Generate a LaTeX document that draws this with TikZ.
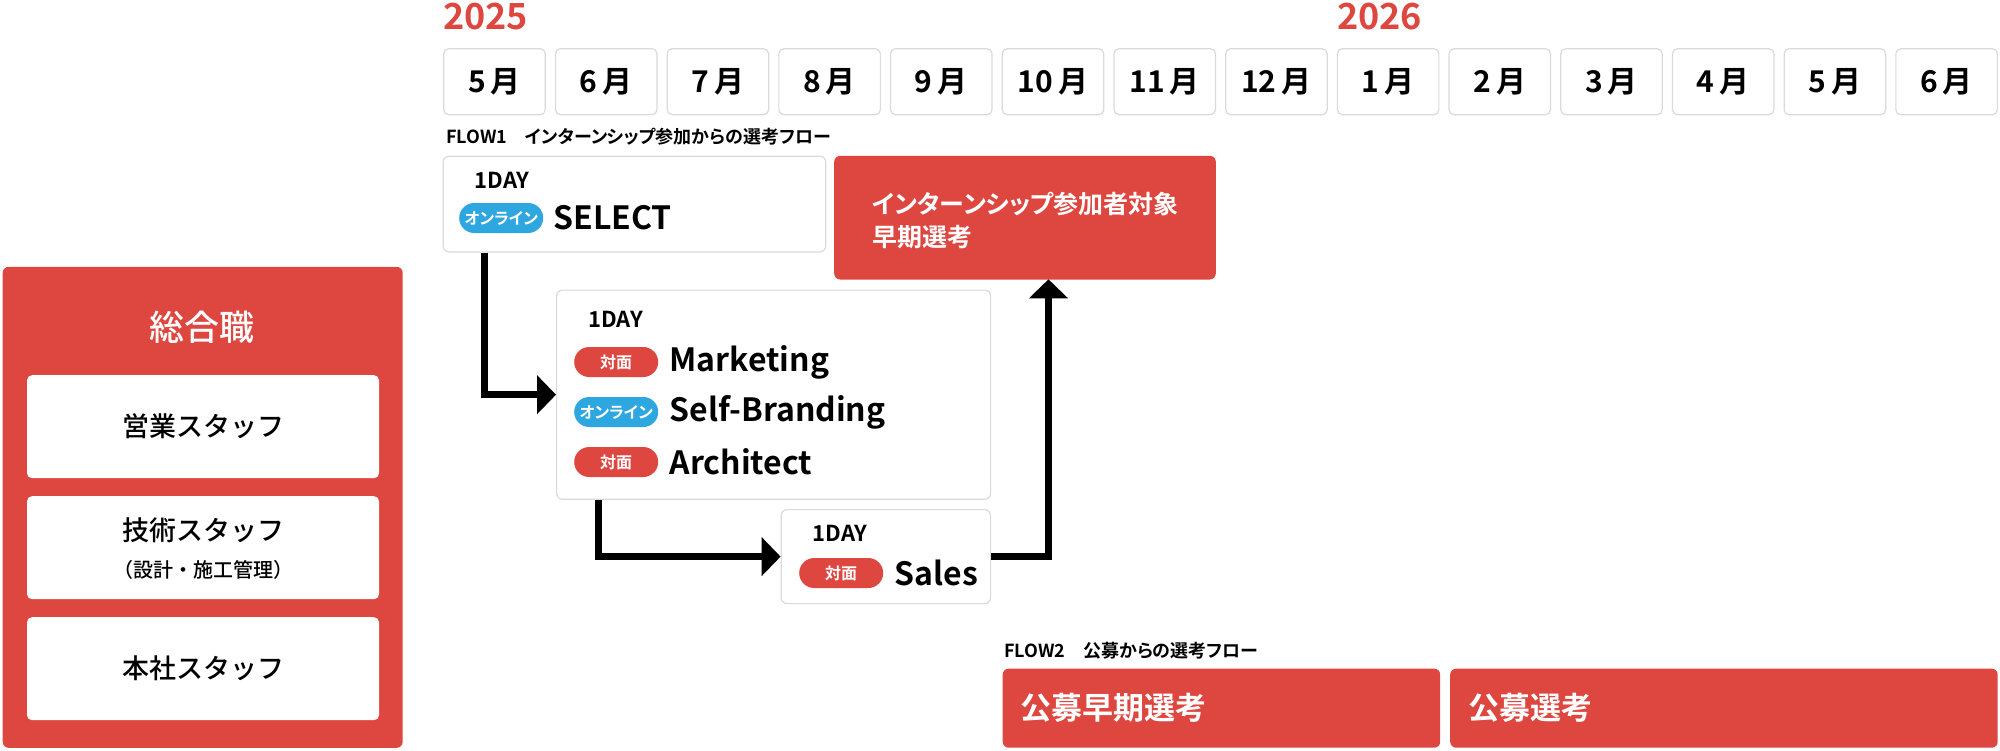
\documentclass[tikz,border=0pt]{standalone}
\usepackage{fontspec}
\setmainfont{Noto Sans CJK JP}[BoldFont={Noto Sans CJK JP Bold}, RawFeature=+palt]
\newfontfamily\jpmedium{Noto Sans CJK JP Medium}
\usepackage{tikz}
\usetikzlibrary{arrows.meta,positioning}

\definecolor{flowred}{HTML}{DE4640}
\definecolor{pillblue}{HTML}{2EA7E0}
\definecolor{boxgray}{HTML}{DADADA}

\newcommand{\fsz}[1]{\fontsize{#1}{#1}\selectfont}

\begin{document}
\begin{tikzpicture}[x=1pt, y=-1pt, >={Triangle[length=19pt,width=38pt]},
	node distance=111.7pt, inner sep=0pt,
	year/.style={text=flowred, font=\fsz{36}\bfseries, anchor=base west},
	month/.style={draw=boxgray, line width=1.2pt, fill=white, rounded corners=5pt,
		minimum width=101.5pt, minimum height=66pt, font=\fsz{30}\bfseries},
	flowlabel/.style={anchor=west, font=\fsz{18}\bfseries},
	card/.style={draw=boxgray, line width=1.2pt, fill=white, rounded corners=6pt, anchor=north west},
	redbox/.style={fill=flowred, rounded corners=6pt, anchor=north west},
	day/.style={anchor=west, font=\fsz{22}\bfseries},
	pill/.style={rounded corners=15pt, minimum width=84pt, minimum height=30pt,
		text=white, font=\fsz{16}\bfseries, anchor=west},
	onlinepill/.style={pill, fill=pillblue},
	facepill/.style={pill, fill=flowred},
	course/.style={anchor=west, font=\fsz{32}\bfseries},
	redtext/.style={text=white, anchor=west, align=left, font=\fontsize{25}{33}\selectfont\bfseries},
	staff/.style={fill=white, rounded corners=5pt, minimum width=352pt, minimum height=103pt},
	stafftext/.style={font=\jpmedium\fsz{27}},
	link/.style={->, line width=7pt}]
	\useasboundingbox (0,0) rectangle (2000,750);

	% Years
	\node [year] (y25) at (443,29.5) {2025};
	\node [year] (y26) at (1337,29.5) {2026};

	% Months
	\node [month] (m5)  at (494.5,81.7) {5\,月};
	\node [month] (m6)  [right of=m5]  {6\,月};
	\node [month] (m7)  [right of=m6]  {7\,月};
	\node [month] (m8)  [right of=m7]  {8\,月};
	\node [month] (m9)  [right of=m8]  {9\,月};
	\node [month] (m10) [right of=m9]  {10\,月};
	\node [month] (m11) [right of=m10] {11\,月};
	\node [month] (m12) [right of=m11] {12\,月};
	\node [month] (m1)  [right of=m12] {1\,月};
	\node [month] (m2)  [right of=m1]  {2\,月};
	\node [month] (m3)  [right of=m2]  {3\,月};
	\node [month] (m4)  [right of=m3]  {4\,月};
	\node [month] (n5)  [right of=m4]  {5\,月};
	\node [month] (n6)  [right of=n5]  {6\,月};

	% Left panel
	\node [redbox, minimum width=400pt, minimum height=481pt] (sogo) at (2.5,266.6) {};
	\node [text=white, font=\jpmedium\fsz{35}] (sogot) at (201.5,327) {総合職};
	\node [staff, anchor=north west] (eigyo) at (26.8,375) {};
	\node [staff, anchor=north west] (gijutsu) at (26.8,496) {};
	\node [staff, anchor=north west] (honsha) at (26.8,617) {};
	\node [stafftext] at (eigyo) {営業スタッフ};
	\node [stafftext] at ([yshift=17pt]gijutsu.center) {技術スタッフ};
	\node [font=\jpmedium\fsz{20}] at ([yshift=-22pt]gijutsu.center) {（設計・施工管理）};
	\node [stafftext] at (honsha) {本社スタッフ};

	% FLOW1
	\node [flowlabel] (flow1) at (446,137) {FLOW1　インターンシップ参加からの選考フロー};
	\node [card, minimum width=382.6pt, minimum height=95.7pt] (sel) at (442.6,155.6) {};
	\node [day] at (474.5,180) {1DAY};
	\node [onlinepill] (p1) at (459,218) {オンライン};
	\node [course] (c1) [right=10pt of p1] {SELECT};

	\node [redbox, minimum width=381.6pt, minimum height=123.7pt] (inred) at (834,155.6) {};
	\node [redtext] at (872,220.5) {インターンシップ参加者対象\\早期選考};

	\node [card, minimum width=434pt, minimum height=209.2pt] (mid) at (556,289.5) {};
	\node [day] at (588,319) {1DAY};
	\node [facepill] (p2) at (574,362) {対面};
	\node [course] (c2) [right=11pt of p2] {Marketing};
	\node [onlinepill] (p3) at (574,412) {オンライン};
	\node [course] (c3) [right=11pt of p3] {Self-Branding};
	\node [facepill] (p4) at (574,462) {対面};
	\node [course] (c4) [right=11pt of p4] {Architect};

	\node [card, minimum width=209.4pt, minimum height=94pt] (sales) at (780.6,509) {};
	\node [day] at (812.5,533) {1DAY};
	\node [facepill] (p5) at (799,573) {対面};
	\node [course] (c5) [right=11pt of p5] {Sales};

	% FLOW2
	\node [flowlabel] (flow2) at (1004,651) {FLOW2　公募からの選考フロー};
	\node [redbox, minimum width=437.5pt, minimum height=79.1pt] (early) at (1002.5,668.4) {};
	\node [redbox, minimum width=547.5pt, minimum height=79.1pt] (koubo) at (1450,668.4) {};
	\node [text=white, anchor=west, font=\fsz{31}\bfseries] at (1020,708) {公募早期選考};
	\node [text=white, anchor=west, font=\fsz{31}\bfseries] at (1468,708) {公募選考};

	% Paths
	\coordinate (up) at (1048.5,279.3);
	\draw [link] ([xshift=42pt]sel.south west) |- (mid.west);
	\draw [link] ([xshift=42pt]mid.south west) |- (sales.west);
	\draw [link] (sales.east) -| (up);
\end{tikzpicture}
\end{document}
